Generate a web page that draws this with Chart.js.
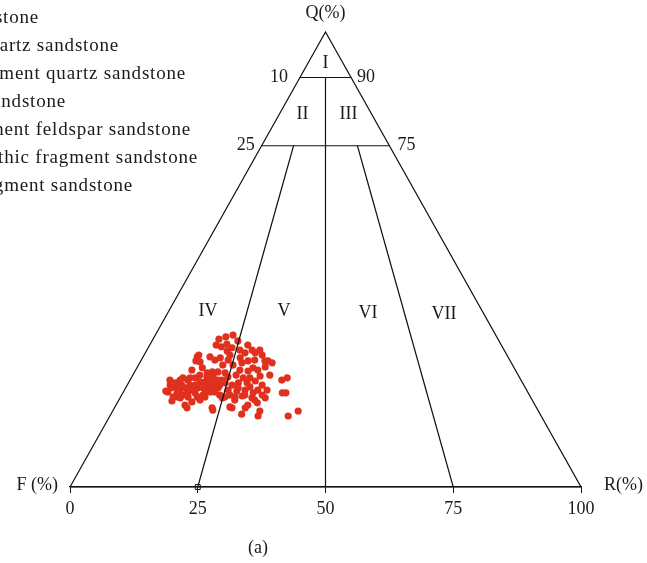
<!DOCTYPE html>
<html>
<head>
<meta charset="utf-8">
<script src="https://cdn.jsdelivr.net/npm/chart.js@4.4.1/dist/chart.umd.min.js"></script>
<style>
  html, body { margin: 0; padding: 0; background: #fff; overflow: hidden; }
  canvas { display: block; }
</style>
</head>
<body>
<canvas id="qfr-chart" width="647" height="563"></canvas>
<script>
// sample compositions, Q and R in %, F = 100 - Q - R
const sampleQ = [
  33.4, 32.1, 30.6, 29.9, 31.2, 29.5, 29.5, 30.1, 29.0, 27.7, 27.3, 27.7, 27.3, 26.8, 27.9,
  25.7, 25.5, 26.2, 25.7, 24.0, 23.3, 24.4, 22.9, 22.9, 22.4, 21.3, 21.3, 20.7, 21.1, 20.2,
  20.0, 19.6, 19.6, 19.1, 18.0, 18.5, 17.4, 17.4, 16.0, 16.7, 15.6, 23.5, 24.0, 20.7, 20.7,
  15.6, 16.7, 28.6, 27.5, 28.6, 27.9, 28.4, 26.8, 25.7, 26.2, 25.1, 25.3, 25.3, 25.1, 24.0,
  23.5, 24.0, 23.1, 23.1, 22.9, 23.1, 23.5, 24.2, 22.4, 22.4, 20.9, 22.0, 22.9, 21.3, 21.8,
  21.3, 22.0, 21.8, 21.8, 21.8, 22.0, 21.8, 19.8, 19.8, 20.2, 19.8, 19.8, 20.2, 19.1, 20.2,
  19.8, 19.6, 18.0, 18.7, 17.4, 17.6, 19.8, 21.8, 31.2, 32.5, 33.0, 30.8, 29.0, 27.7, 21.8,
  18.9, 17.4, 16.9, 20.9, 20.9, 21.3, 20.7, 23.5, 31.4, 30.1, 22.0, 20.2, 24.6, 21.3, 20.7,
  22.4, 24.2, 22.4, 24.6, 24.0, 21.1, 27.7, 26.4, 29.0, 27.9, 23.5, 22.9, 22.4, 20.9, 22.4,
  19.8, 20.9, 23.5, 22.9, 19.6, 24.0, 24.6, 24.2, 28.4, 30.1, 20.2, 19.1
];
const sampleR = [
  15.2, 16.8, 16.4, 15.8, 19.2, 19.5, 21.5, 22.1, 23.1, 24.3, 25.9, 21.0, 20.0, 18.5, 17.0,
  20.4, 22.1, 22.7, 23.9, 23.2, 24.6, 25.0, 21.5, 23.2, 26.4, 27.9, 26.1, 25.5, 22.1, 21.2,
  23.7, 25.8, 28.4, 22.7, 25.8, 27.4, 25.6, 23.0, 25.6, 28.8, 29.0, 29.7, 30.5, 31.2, 31.9,
  34.9, 36.3, 10.6, 11.7, 13.1, 14.4, 15.2, 16.5, 11.0, 12.8, 14.3, 15.2, 16.3, 17.8, 10.1,
  11.3, 12.5, 13.9, 14.9, 16.0, 16.8, 18.0, 18.8, 20.5, 8.4, 8.7, 9.6, 9.7, 10.9, 11.6,
  12.8, 13.1, 14.2, 15.2, 16.1, 17.0, 18.1, 10.3, 11.2, 12.0, 13.2, 15.0, 15.9, 15.9, 19.2,
  20.4, 20.0, 13.5, 14.5, 19.1, 22.5, 22.4, 22.0, 13.0, 12.9, 14.0, 14.2, 10.7, 10.8, 8.9,
  10.5, 14.2, 19.5, 16.0, 17.9, 20.3, 14.1, 9.8, 15.0, 18.2, 24.2, 27.5, 26.8, 23.6, 10.6,
  12.3, 14.7, 18.1, 20.2, 21.9, 8.2, 24.9, 25.0, 16.8, 22.2, 7.8, 9.1, 10.7, 12.6, 13.3,
  16.5, 17.0, 17.2, 18.9, 11.8, 11.5, 13.1, 15.9, 19.1, 20.6, 24.1, 26.6
];

// classification boundaries
const quartzLevels = [90, 75];        // Q% lines
const ratioSplits = [25, 50, 75];     // R/(F+R) % along the base
const baseTicks = [0, 25, 50, 75, 100];
const sideLabels = [['10', '90'], ['25', '75']];
const fieldNames = ['I', 'II', 'III', 'IV', 'V', 'VI', 'VII'];
const legendNames = [
  'I: Quartz sandstone',
  'II: Feldspar quartz sandstone',
  'III: Lithic fragment quartz sandstone',
  'IV: Feldspar sandstone',
  'V: Lithic fragment feldspar sandstone',
  'VI: Feldspar lithic fragment sandstone',
  'VII: Lithic fragment sandstone'
];

const serif = '"Liberation Serif", "DejaVu Serif", serif';
const ink = '#1a1a1a';

// ternary (Q, R) -> plot coordinates, base runs F (0) to R (100)
function toXY(q, r) {
  return { x: r + q / 2, y: q };
}
// point on the line from the base split toward the Q apex, at a given Q level
function splitPoint(split, q) {
  return { x: split + (50 - split) * q / 100, y: q };
}

const samples = sampleQ.map((q, i) => toXY(q, sampleR[i]));

const qTop = quartzLevels[0], qMid = quartzLevels[1];
const lineSets = [
  [{ x: 0, y: 0 }, { x: 50, y: 100 }, { x: 100, y: 0 }, { x: 0, y: 0 }],
  [splitPoint(0, qTop), splitPoint(100, qTop)],
  [splitPoint(0, qMid), splitPoint(100, qMid)],
  [splitPoint(ratioSplits[1], qTop), splitPoint(ratioSplits[1], 0)],
  [splitPoint(ratioSplits[0], qMid), splitPoint(ratioSplits[0], 0)],
  [splitPoint(ratioSplits[2], qMid), splitPoint(ratioSplits[2], 0)]
];

const lineDatasets = lineSets.map(pts => ({
  type: 'line',
  data: pts,
  borderColor: '#111',
  borderWidth: 1.2,
  pointRadius: 0,
  fill: false,
  tension: 0,
  clip: false,
  order: 0
}));

// region names, text placed in plot coordinates
const fieldSpots = [
  [50, 93.2], [45.5, 82], [54.5, 82],
  [27.0, 38.7], [41.9, 38.7], [58.3, 38.2], [73.2, 38.0]
];

const labelPlugin = {
  id: 'qfrLabels',
  afterDraw(chart) {
    const ctx = chart.ctx;
    const xs = chart.scales.x, ys = chart.scales.y;
    const px = v => xs.getPixelForValue(v);
    const py = v => ys.getPixelForValue(v);
    ctx.save();
    ctx.fillStyle = ink;
    ctx.textBaseline = 'middle';
    ctx.font = '18px ' + serif;

    ctx.textAlign = 'center';
    fieldNames.forEach((name, i) => {
      ctx.fillText(name, px(fieldSpots[i][0]), py(fieldSpots[i][1]));
    });

    // values along the two sides, next to the Q level lines
    quartzLevels.forEach((q, i) => {
      const left = splitPoint(0, q), right = splitPoint(100, q);
      ctx.textAlign = 'right';
      ctx.fillText(sideLabels[i][0], px(left.x) - (i === 0 ? 12 : 7), py(q));
      ctx.textAlign = 'left';
      ctx.fillText(sideLabels[i][1], px(right.x) + (i === 0 ? 6 : 8), py(q));
    });

    ctx.textAlign = 'center';
    ctx.fillText('Q(%)', px(50), py(100) - 19);
    ctx.textAlign = 'right';
    ctx.fillText('F (%)', px(0) - 12, py(0) - 2);
    ctx.textAlign = 'left';
    ctx.fillText('R(%)', px(100) + 23, py(0) - 2);
    ctx.textAlign = 'center';
    ctx.fillText('(a)', 258, 548);

    // key, runs off the left edge
    const keyEnds = [39, 119, 186, 66, 191, 198, 133];
    ctx.font = '19px ' + serif;
    ctx.letterSpacing = '0.8px';
    ctx.textAlign = 'right';
    legendNames.forEach((name, i) => {
      ctx.fillText(name, keyEnds[i], 18 + i * 28);
    });
    ctx.restore();
  }
};

new Chart(document.getElementById('qfr-chart'), {
  type: 'scatter',
  data: {
    datasets: [
      ...lineDatasets,
      {
        type: 'scatter',
        data: [{ x: ratioSplits[0], y: 0 }],
        pointStyle: 'rect',
        pointRadius: 3.5,
        borderColor: '#111',
        borderWidth: 1,
        backgroundColor: 'rgba(255,255,255,0)',
        clip: false,
        order: 0
      },
      {
        type: 'scatter',
        label: 'Samples',
        data: samples,
        pointRadius: 3.6,
        pointHoverRadius: 3.6,
        borderWidth: 0,
        backgroundColor: '#e0301e',
        order: 1
      }
    ]
  },
  options: {
    responsive: false,
    animation: false,
    devicePixelRatio: 1,
    layout: { padding: { left: 70, right: 66, top: 32, bottom: 0 } },
    plugins: { legend: { display: false }, tooltip: { enabled: false } },
    scales: {
      x: {
        type: 'linear',
        min: 0,
        max: 100,
        afterBuildTicks(scale) {
          scale.ticks = baseTicks.map(v => ({ value: v }));
        },
        afterFit(scale) { scale.height = 76; },
        ticks: { color: ink, padding: 5, font: { family: serif, size: 18 } },
        grid: { drawOnChartArea: false, tickLength: 6, color: '#111', tickColor: '#111', lineWidth: 1 },
        border: { display: true, color: '#111', width: 1.2 }
      },
      y: { display: false, min: 0, max: 100 }
    }
  },
  plugins: [labelPlugin]
});
</script>
</body>
</html>
